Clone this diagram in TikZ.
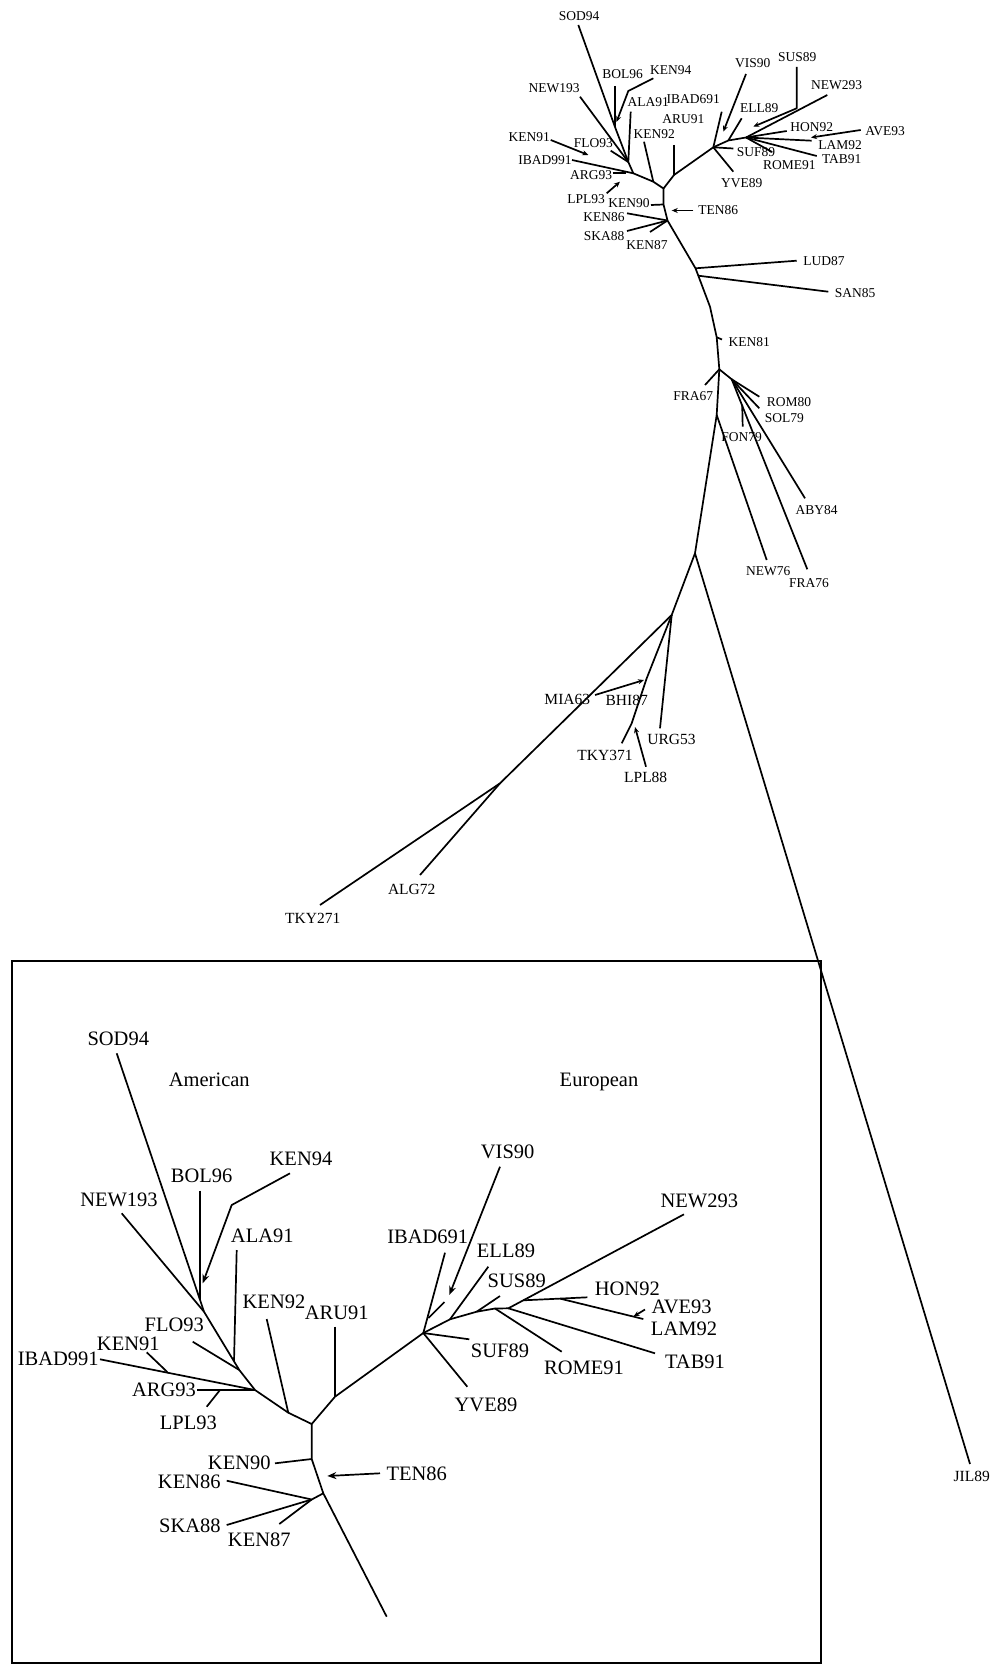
\documentclass[tikz,border=0pt]{standalone}
\usepackage{fontspec}
\setmainfont{Liberation Serif}
\usetikzlibrary{arrows.meta}

\begin{document}
\begin{tikzpicture}[
  x=1pt, y=-1pt,
  lab/.style={font=\fontsize{13.5}{14}\selectfont, inner sep=0pt, text depth=0pt},
  labm/.style={font=\fontsize{15.5}{16}\selectfont, inner sep=0pt, text depth=0pt},
  ilab/.style={font=\fontsize{20.5}{22}\selectfont, inner sep=0pt, text depth=0pt},
  branch/.style={line width=1.7pt, line join=round},
  ptr/.style={branch, -{Stealth[length=6pt,width=5pt]}},
  iptr/.style={branch, -{Stealth[length=9pt,width=7pt]}}
]
\useasboundingbox (0,0) rectangle (994,1664);

% Main tree: American clade
\node[lab] (sod) at (579,16) {SOD94};        \coordinate (sodT) at (578.3,25);
\node[lab] (bol) at (622.7,74) {BOL96};      \coordinate (bolT) at (615,86);
\node[lab] (k94) at (670.7,70) {KEN94};      \coordinate (k94T) at (653.3,78.3);
\node[lab] (n193) at (554,88.3) {NEW193};    \coordinate (n193T) at (580,96.7);
\node[lab] (ala) at (648.3,101.7) {ALA91};   \coordinate (alaT) at (630.7,111.7);
\node[lab] (k92) at (654.3,134) {KEN92};     \coordinate (k92T) at (644,141.7);
\node[lab] (aru) at (683.3,119.3) {ARU91};   \coordinate (aruT) at (674,145);
\node[lab] (k91) at (529.3,137.3) {KEN91};   \coordinate (k91T) at (550.7,140);
\node[lab] (flo) at (593.3,143.3) {FLO93};   \coordinate (floT) at (610.7,150.7);
\node[lab] (ib991) at (545,160) {IBAD991};   \coordinate (ib991T) at (572,160);
\node[lab] (arg) at (591,175) {ARG93};       \coordinate (argT) at (612.7,173.3);
\node[lab] (lpl93) at (586,199) {LPL93};     \coordinate (lpl93T) at (606.7,193.3);
\node[lab] (k90) at (629,203.3) {KEN90};     \coordinate (k90T) at (651,205);
\node[lab] (ten) at (718.3,210) {TEN86};     \coordinate (tenT) at (693.3,210.5);
\node[lab] (k86) at (604,217.3) {KEN86};     \coordinate (k86T) at (627,213.3);
\node[lab] (ska) at (604,236.3) {SKA88};     \coordinate (skaT) at (627,231);
\node[lab] (k87) at (647,245.5) {KEN87};     \coordinate (k87T) at (650,232);

\coordinate (a1) at (615,127);
\coordinate (a2) at (628.3,162);
\coordinate (a3) at (633.3,173.3);
\coordinate (a4) at (653.3,181.7);
\coordinate (r) at (663.5,188.5);
\coordinate (b) at (674,175);
\coordinate (r1) at (663.5,204.5);
\coordinate (k) at (667.5,220.5);
\coordinate (k94B) at (628.3,91);
\coordinate (k94A) at (616.5,122);
\coordinate (k91A) at (588.3,155);
\coordinate (argJ) at (626,173.3);
\coordinate (lpl93A) at (620,181.7);
\coordinate (tenA) at (671.7,210.5);

% Main tree: European clade
\node[lab] (vis) at (752.7,63.3) {VIS90};     \coordinate (visT) at (746,74);
\node[lab] (sus) at (797.3,56.7) {SUS89};     \coordinate (susT) at (796.7,67);
\node[lab] (n293) at (836.7,85) {NEW293};     \coordinate (n293T) at (827.3,95);
\node[lab] (ib691) at (693.3,99.3) {IBAD691}; \coordinate (ib691T) at (721.7,111.7);
\node[lab] (ell) at (759.3,108.3) {ELL89};    \coordinate (ellT) at (741.7,118.3);
\node[lab] (hon) at (811.7,126.7) {HON92};    \coordinate (honT) at (786.7,131);
\node[lab] (ave) at (885,130.7) {AVE93};      \coordinate (aveT) at (860.7,130);
\node[lab] (lam) at (840,145) {LAM92};        \coordinate (lamT) at (811.7,140.7);
\node[lab] (suf) at (756,151.7) {SUF89};      \coordinate (sufT) at (733.3,148.5);
\node[lab] (tab) at (841.7,159.3) {TAB91};    \coordinate (tabT) at (816.7,156);
\node[lab] (rome) at (789.3,165) {ROME91};    \coordinate (romeT) at (772,152);
\node[lab] (yve) at (741.7,183.3) {YVE89};    \coordinate (yveT) at (733.3,171.7);

\coordinate (e0) at (713.3,147.3);
\coordinate (e1) at (728.3,140.5);
\coordinate (e2) at (746,137.5);
\coordinate (visA) at (723.3,131.7);
\coordinate (susB) at (796.7,108.3);
\coordinate (susA) at (753.3,126.7);
\coordinate (aveA) at (811,137.5);

% Main tree: middle part
\node[lab] (lud) at (824,261) {LUD87};        \coordinate (ludT) at (796.7,260.7);
\node[lab] (san) at (855,292.7) {SAN85};      \coordinate (sanT) at (828.3,291.7);
\node[lab] (k81) at (749.3,341.7) {KEN81};    \coordinate (k81T) at (722,339.5);
\node[lab] (fra67) at (693.3,395.7) {FRA67};  \coordinate (fra67T) at (705,385);
\node[lab] (rom80) at (789,401.7) {ROM80};    \coordinate (rom80T) at (759.3,396.7);
\node[lab] (sol) at (784.3,418.3) {SOL79};    \coordinate (solT) at (759.3,408.3);
\node[lab] (fon) at (741.7,436.7) {FON79};    \coordinate (fonT) at (742.7,426.7);
\node[lab] (aby) at (816.7,510) {ABY84};      \coordinate (abyT) at (805,498.3);
\node[lab] (new76) at (768.3,570.7) {NEW76};  \coordinate (new76T) at (766.7,560);
\node[lab] (fra76) at (809,583.3) {FRA76};    \coordinate (fra76T) at (807.3,569.3);

\coordinate (l) at (695.5,268.3);
\coordinate (s) at (698.3,275.7);
\coordinate (s1) at (710,306.7);
\coordinate (k81J) at (716.7,337.3);
\coordinate (f) at (719.3,369.3);
\coordinate (f2) at (731.7,379.3);
\coordinate (fon0) at (742.2,405);
\coordinate (n) at (716.7,415);
\coordinate (g) at (695,553.3);

% Main tree: lower part
\node[labm] (mia) at (567.3,699.3) {MIA63};     \coordinate (miaT) at (595,695);
\node[labm] (bhi) at (626.7,700.7) {BHI87};
\node[labm] (urg) at (671.5,739) {URG53};       \coordinate (urgT) at (660,728.3);
\node[labm] (tky371) at (605,755.7) {TKY371};   \coordinate (tky371T) at (621.7,743.3);
\node[labm] (lpl88) at (645.7,777.7) {LPL88};   \coordinate (lpl88T) at (646,766.7);
\node[labm] (alg) at (411.7,889.3) {ALG72};     \coordinate (algT) at (420,875);
\node[labm] (tky271) at (312.7,918.3) {TKY271}; \coordinate (tky271T) at (320,905);
\node[labm] (jil) at (971.7,1476) {JIL89};      \coordinate (jilT) at (970,1464);

\coordinate (h) at (671.7,615);
\coordinate (b2) at (646.7,678.3);
\coordinate (t) at (631.7,723.3);
\coordinate (j) at (500,783.3);
\coordinate (miaA) at (644,680);
\coordinate (lpl88A) at (635,727);

% backbone
\draw[branch] (sodT) -- (a1) -- (a2) -- (a3) -- (a4) -- (r) -- (r1) -- (k) -- (l) -- (s)
  -- (s1) -- (k81J) -- (f) -- (n) -- (g) -- (h) -- (j) -- (tky271T);
\draw[branch] (bolT) -- (a1);
\draw[ptr] (k94T) -- (k94B) -- (k94A);
\draw[branch] (n193T) -- (a2); \draw[branch] (alaT) -- (a2); \draw[branch] (floT) -- (a2);
\draw[ptr] (k91T) -- (k91A);
\draw[branch] (ib991T) -- (a3); \draw[branch] (argT) -- (argJ);
\draw[ptr] (lpl93T) -- (lpl93A);
\draw[branch] (k92T) -- (a4);
\draw[branch] (r) -- (b) -- (e0); \draw[branch] (aruT) -- (b);
\draw[branch] (k90T) -- (r1);
\draw[ptr] (tenT) -- (tenA);
\draw[branch] (k86T) -- (k); \draw[branch] (skaT) -- (k); \draw[branch] (k87T) -- (k);

\draw[branch] (ib691T) -- (e0);
\draw[ptr] (visT) -- (visA);
\draw[branch] (e0) -- (e1) -- (e2) -- (n293T);
\draw[branch] (ellT) -- (e1);
\draw[ptr] (susT) -- (susB) -- (susA);
\draw[branch] (e2) -- (honT); \draw[branch] (e2) -- (lamT);
\draw[ptr] (aveT) -- (aveA);
\draw[branch] (e2) -- (tabT); \draw[branch] (e2) -- (romeT);
\draw[branch] (sufT) -- (e0); \draw[branch] (yveT) -- (e0);

\draw[branch] (l) -- (ludT); \draw[branch] (s) -- (sanT);
\draw[branch] (k81J) -- (k81T);
\draw[branch] (f) -- (fra67T);
\draw[branch] (f) -- (f2) -- (rom80T); \draw[branch] (f2) -- (solT);
\draw[branch] (f2) -- (abyT); \draw[branch] (f2) -- (fra76T);
\draw[branch] (fon0) -- (fonT);
\draw[branch] (n) -- (new76T);
\draw[branch] (g) -- (jilT);

\draw[branch] (h) -- (b2) -- (t) -- (tky371T);
\draw[branch] (h) -- (urgT);
\draw[ptr] (miaT) -- (miaA);
\draw[ptr] (lpl88T) -- (lpl88A);
\draw[branch] (j) -- (algT);

% Inset box
\draw[line width=2pt] (12,961) rectangle (821,1663);
\node[ilab] (amer) at (209.3,1080) {American};
\node[ilab] (euro) at (599,1080) {European};

% Inset: American clade
\node[ilab] (isod) at (118.3,1039) {SOD94};      \coordinate (isodT) at (116.7,1053.3);
\node[ilab] (ibol) at (201.7,1175.7) {BOL96};    \coordinate (ibolT) at (200,1190.7);
\node[ilab] (ik94) at (301,1158.3) {KEN94};      \coordinate (ik94T) at (290,1173.3);
\node[ilab] (in193) at (119,1200) {NEW193};      \coordinate (in193T) at (121.7,1213.3);
\node[ilab] (iala) at (262.3,1236) {ALA91};      \coordinate (ialaT) at (236.7,1250);
\node[ilab] (ik92) at (274,1301.7) {KEN92};      \coordinate (ik92T) at (266.7,1319);
\node[ilab] (iaru) at (336.7,1312.7) {ARU91};    \coordinate (iaruT) at (335,1326.7);
\node[ilab] (iflo) at (174.3,1325) {FLO93};      \coordinate (ifloT) at (192.7,1341.7);
\node[ilab] (ik91) at (128.3,1343.3) {KEN91};    \coordinate (ik91T) at (146.7,1352.3);
\node[ilab] (iib991) at (58.3,1359) {IBAD991};   \coordinate (iib991T) at (100,1359.3);
\node[ilab] (iarg) at (164,1390) {ARG93};        \coordinate (iargT) at (197.3,1390);
\node[ilab] (ilpl93) at (188.3,1423) {LPL93};    \coordinate (ilpl93T) at (206.7,1406.7);
\node[ilab] (ik90) at (239.3,1462.3) {KEN90};    \coordinate (ik90T) at (275,1463.3);
\node[ilab] (iten) at (416.7,1473.3) {TEN86};    \coordinate (itenT) at (380,1473.3);
\node[ilab] (ik86) at (189.3,1481.7) {KEN86};    \coordinate (ik86T) at (226.7,1480.7);
\node[ilab] (iska) at (190,1525.7) {SKA88};      \coordinate (iskaT) at (226.7,1525);
\node[ilab] (ik87) at (259.3,1540) {KEN87};      \coordinate (ik87T) at (279.3,1524);

\coordinate (ia0) at (200,1299.8);
\coordinate (ia1) at (204,1311.7);
\coordinate (ial) at (234,1361.3);
\coordinate (ia2) at (239.3,1370);
\coordinate (ia3) at (255,1390);
\coordinate (ia4) at (288.3,1412.7);
\coordinate (ir) at (311.7,1424);
\coordinate (ib) at (335,1396.7);
\coordinate (ir1) at (311.7,1459);
\coordinate (ik) at (323.3,1493.3);
\coordinate (ik8) at (311.7,1499.5);
\coordinate (iend) at (386.7,1616.7);
\coordinate (ik94B) at (231.7,1205);
\coordinate (ik94A) at (202.7,1283.3);
\coordinate (ik91J) at (167.3,1372);
\coordinate (ilpl93J) at (220,1390);
\coordinate (itenA) at (327.3,1476);

% Inset: European clade
\node[ilab] (ivis) at (507.7,1151.7) {VIS90};     \coordinate (ivisT) at (500,1166.7);
\node[ilab] (iib691) at (427.7,1236.7) {IBAD691}; \coordinate (iib691T) at (445,1252.7);
\node[ilab] (iell) at (506,1250.7) {ELL89};       \coordinate (iellT) at (488.3,1266.7);
\node[ilab] (isus) at (516.7,1281) {SUS89};       \coordinate (isusT) at (500,1296);
\node[ilab] (in293) at (699.3,1200.7) {NEW293};   \coordinate (in293T) at (684,1214.3);
\node[ilab] (ihon) at (627.3,1288.3) {HON92};     \coordinate (ihonT) at (587.3,1297.3);
\node[ilab] (iave) at (681.7,1306.7) {AVE93};     \coordinate (iaveT) at (645,1309.5);
\node[ilab] (ilam) at (684,1328.3) {LAM92};       \coordinate (ilamT) at (643.3,1319);
\node[ilab] (itab) at (695,1361.7) {TAB91};       \coordinate (itabT) at (655,1353.3);
\node[ilab] (irome) at (584,1367.7) {ROME91};     \coordinate (iromeT) at (561.7,1351.7);
\node[ilab] (isuf) at (500,1351) {SUF89};         \coordinate (isufT) at (469.3,1339.3);
\node[ilab] (iyve) at (486,1405) {YVE89};         \coordinate (iyveT) at (467.3,1386.7);

\coordinate (ie0) at (423.3,1333);
\coordinate (iv0) at (428.5,1318);
\coordinate (iv1) at (444.5,1302);
\coordinate (ivisA) at (449.3,1295);
\coordinate (ie1) at (450,1319.3);
\coordinate (isJ) at (476.7,1311.7);
\coordinate (ie2) at (495,1308.5);
\coordinate (ie3) at (508.3,1308.3);
\coordinate (ie4) at (523.3,1300.3);
\coordinate (ie5) at (560,1298.6);
\coordinate (iaveA) at (633.5,1316.5);

\draw[branch] (isodT) -- (ia0) -- (ia1) -- (ial) -- (ia2) -- (ia3) -- (ia4) -- (ir) -- (ir1) -- (ik) -- (iend);
\draw[branch] (ibolT) -- (ia0);
\draw[iptr] (ik94T) -- (ik94B) -- (ik94A);
\draw[branch] (in193T) -- (ia1); \draw[branch] (ialaT) -- (ial); \draw[branch] (ifloT) -- (ia2);
\draw[branch] (iib991T) -- (ia3); \draw[branch] (ik91T) -- (ik91J);
\draw[branch] (iargT) -- (ia3); \draw[branch] (ilpl93T) -- (ilpl93J);
\draw[branch] (ik92T) -- (ia4);
\draw[branch] (ir) -- (ib) -- (ie0); \draw[branch] (iaruT) -- (ib);
\draw[branch] (ik90T) -- (ir1);
\draw[iptr] (itenT) -- (itenA);
\draw[branch] (ik86T) -- (ik8) -- (ik); \draw[branch] (iskaT) -- (ik8); \draw[branch] (ik87T) -- (ik8);

\draw[branch] (iib691T) -- (ie0); \draw[branch] (iv0) -- (iv1);
\draw[iptr] (ivisT) -- (ivisA);
\draw[branch] (ie0) -- (ie1) -- (isJ) -- (ie2) -- (ie3) -- (ie4) -- (in293T);
\draw[branch] (iellT) -- (ie1); \draw[branch] (isusT) -- (isJ);
\draw[branch] (iromeT) -- (ie2); \draw[branch] (itabT) -- (ie3);
\draw[branch] (ie4) -- (ie5) -- (ihonT); \draw[branch] (ie5) -- (ilamT);
\draw[ptr] (iaveT) -- (iaveA);
\draw[branch] (isufT) -- (ie0); \draw[branch] (iyveT) -- (ie0);
\end{tikzpicture}
\end{document}
